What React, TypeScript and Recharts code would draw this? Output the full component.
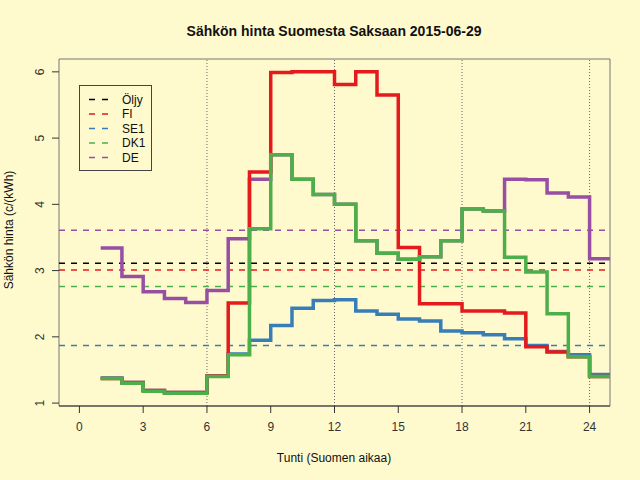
import {
  Legend,
  Line,
  LineChart,
  ReferenceArea,
  ReferenceLine,
  XAxis,
  YAxis,
} from "recharts";

const HOURS = [
  1, 2, 3, 4, 5, 6, 7, 8, 9, 10, 11, 12, 13, 14, 15, 16, 17, 18, 19, 20, 21,
  22, 23, 24,
];

const FI = [
  1.37, 1.31, 1.19, 1.16, 1.16, 1.41, 2.51, 4.49, 5.99, 6.0, 6.0, 5.81, 6.0,
  5.65, 3.35, 2.5, 2.5, 2.39, 2.39, 2.36, 1.85, 1.77, 1.7, 1.4,
];
const SE1 = [
  1.38, 1.31, 1.19, 1.16, 1.16, 1.41, 1.74, 1.95, 2.17, 2.43, 2.55, 2.56, 2.39,
  2.34, 2.27, 2.24, 2.09, 2.06, 2.03, 1.97, 1.87, 1.78, 1.73, 1.43,
];
const DK1 = [
  1.37, 1.3, 1.18, 1.15, 1.15, 1.4, 1.73, 3.63, 4.75, 4.38, 4.15, 4.0, 3.45,
  3.26, 3.17, 3.21, 3.45, 3.93, 3.9, 3.2, 2.98, 2.35, 1.7, 1.4,
];
const DE = [
  3.34, 2.91, 2.68, 2.58, 2.52, 2.7, 3.48, 4.38, 4.75, 4.38, 4.15, 4.0, 3.45,
  3.26, 3.17, 3.21, 3.45, 3.93, 3.9, 4.38, 4.37, 4.17, 4.11, 3.18,
];

// horizontal reference levels (dashed)
const OIL_LEVEL = 3.11;
const FI_LEVEL = 3.01;
const SE1_LEVEL = 1.87;
const DK1_LEVEL = 2.76;
const DE_LEVEL = 3.61;

const X_TICKS = [0, 3, 6, 9, 12, 15, 18, 21, 24];
const Y_TICKS = [1, 2, 3, 4, 5, 6];
const DAY_MARKS = [6, 12, 18, 24];

const X_DOMAIN: [number, number] = [-0.96, 24.96];
const Y_DOMAIN: [number, number] = [0.956, 6.194];

const COLORS = {
  oil: "#000000",
  fi: "#E41A1C",
  se1: "#377EB8",
  dk1: "#4DAF4A",
  de: "#984EA3",
};

const LEGEND_ITEMS = [
  { label: "Öljy", color: COLORS.oil },
  { label: "FI", color: COLORS.fi },
  { label: "SE1", color: COLORS.se1 },
  { label: "DK1", color: COLORS.dk1 },
  { label: "DE", color: COLORS.de },
];

const FONT = '"Liberation Sans", Arial, Helvetica, sans-serif';
const BG = "#FFFACD";

// type="s" style steps: each hour holds until the next one, last one runs to the edge
const rows = [
  ...HOURS.map((h, i) => ({
    hour: h,
    fi: FI[i],
    se1: SE1[i],
    dk1: DK1[i],
    de: DE[i],
  })),
  {
    hour: HOURS[HOURS.length - 1] + 1,
    fi: FI[FI.length - 1],
    se1: SE1[SE1.length - 1],
    dk1: DK1[DK1.length - 1],
    de: DE[DE.length - 1],
  },
];

function RotatedTick({
  x,
  y,
  payload,
}: {
  x?: number;
  y?: number;
  payload?: { value: number };
}) {
  return (
    <text
      x={x}
      y={y}
      transform={`rotate(-90 ${x} ${y})`}
      textAnchor="middle"
      fontSize={12}
      fontFamily={FONT}
      fill="#333"
    >
      {payload?.value}
    </text>
  );
}

function LegendBox() {
  return (
    <svg width={74} height={87} style={{ display: "block" }}>
      <rect
        x={0.5}
        y={0.5}
        width={72}
        height={85}
        fill="none"
        stroke="#444"
        strokeWidth={1}
      />
      {LEGEND_ITEMS.map((item, i) => {
        const cy = 14.5 + i * 14.5;
        return (
          <g key={item.label}>
            <line
              x1={10}
              x2={30}
              y1={cy}
              y2={cy}
              stroke={item.color}
              strokeWidth={1.6}
              strokeDasharray="6 7"
            />
            <text
              x={43}
              y={cy}
              dominantBaseline="central"
              fontSize={12}
              fontFamily={FONT}
              fill="#111"
            >
              {item.label}
            </text>
          </g>
        );
      })}
    </svg>
  );
}

const levelLines = [
  { y: DE_LEVEL, color: COLORS.de },
  { y: OIL_LEVEL, color: COLORS.oil },
  { y: FI_LEVEL, color: COLORS.fi },
  { y: DK1_LEVEL, color: COLORS.dk1 },
  { y: SE1_LEVEL, color: COLORS.se1 },
];

export default function App() {
  return (
    <div
      style={{
        position: "absolute",
        left: 0,
        top: 0,
        width: 640,
        height: 480,
        background: BG,
        fontFamily: FONT,
        overflow: "hidden",
      }}
    >
      <LineChart
        width={640}
        height={480}
        data={rows}
        margin={{ top: 59, right: 30, bottom: 24, left: 9 }}
      >
        <XAxis
          dataKey="hour"
          type="number"
          domain={X_DOMAIN}
          allowDataOverflow
          ticks={X_TICKS}
          interval={0}
          height={50}
          tickSize={7}
          tickMargin={9}
          tick={{ fontSize: 12, fill: "#333", fontFamily: FONT }}
          tickLine={{ stroke: "#333" }}
          axisLine={{ stroke: "#333" }}
        />
        <YAxis
          type="number"
          domain={Y_DOMAIN}
          allowDataOverflow
          ticks={Y_TICKS}
          interval={0}
          width={50}
          tickSize={7}
          tickMargin={8}
          tick={<RotatedTick />}
          tickLine={{ stroke: "#333" }}
          axisLine={false}
        />
        <ReferenceArea
          x1={X_DOMAIN[0]}
          x2={X_DOMAIN[1]}
          y1={Y_DOMAIN[0]}
          y2={Y_DOMAIN[1]}
          fill="none"
          stroke="#777"
          strokeWidth={1}
        />
        {DAY_MARKS.map((h) => (
          <ReferenceLine
            key={h}
            x={h}
            stroke="#666"
            strokeWidth={1}
            strokeDasharray="1 2"
          />
        ))}
        {levelLines.map((l) => (
          <ReferenceLine
            key={l.color}
            y={l.y}
            stroke={l.color}
            strokeWidth={1.5}
            strokeDasharray="6 6"
          />
        ))}
        <Line
          type="stepAfter"
          dataKey="de"
          stroke={COLORS.de}
          strokeWidth={3.5}
          dot={false}
          isAnimationActive={false}
        />
        <Line
          type="stepAfter"
          dataKey="se1"
          stroke={COLORS.se1}
          strokeWidth={3.5}
          dot={false}
          isAnimationActive={false}
        />
        <Line
          type="stepAfter"
          dataKey="fi"
          stroke={COLORS.fi}
          strokeWidth={3.5}
          dot={false}
          isAnimationActive={false}
        />
        <Line
          type="stepAfter"
          dataKey="dk1"
          stroke={COLORS.dk1}
          strokeWidth={3.5}
          dot={false}
          isAnimationActive={false}
        />
        <Legend
          layout="vertical"
          align="center"
          verticalAlign="middle"
          content={() => <LegendBox />}
          wrapperStyle={{ left: 79, top: 85, width: 74, height: 87 }}
        />
      </LineChart>
      <div
        style={{
          position: "absolute",
          left: 334,
          top: 31,
          transform: "translate(-50%, -50%)",
          fontSize: 14,
          fontWeight: "bold",
          whiteSpace: "nowrap",
          lineHeight: 1,
          color: "#111",
        }}
      >
        Sähkön hinta Suomesta Saksaan 2015-06-29
      </div>
      <div
        style={{
          position: "absolute",
          left: 334,
          top: 458,
          transform: "translate(-50%, -50%)",
          fontSize: 12,
          whiteSpace: "nowrap",
          lineHeight: 1,
          color: "#111",
        }}
      >
        Tunti (Suomen aikaa)
      </div>
      <div
        style={{
          position: "absolute",
          left: 9,
          top: 230,
          transform: "translate(-50%, -50%) rotate(-90deg)",
          fontSize: 12,
          whiteSpace: "nowrap",
          lineHeight: 1,
          color: "#111",
        }}
      >
        Sähkön hinta (c/(kWh)
      </div>
    </div>
  );
}
